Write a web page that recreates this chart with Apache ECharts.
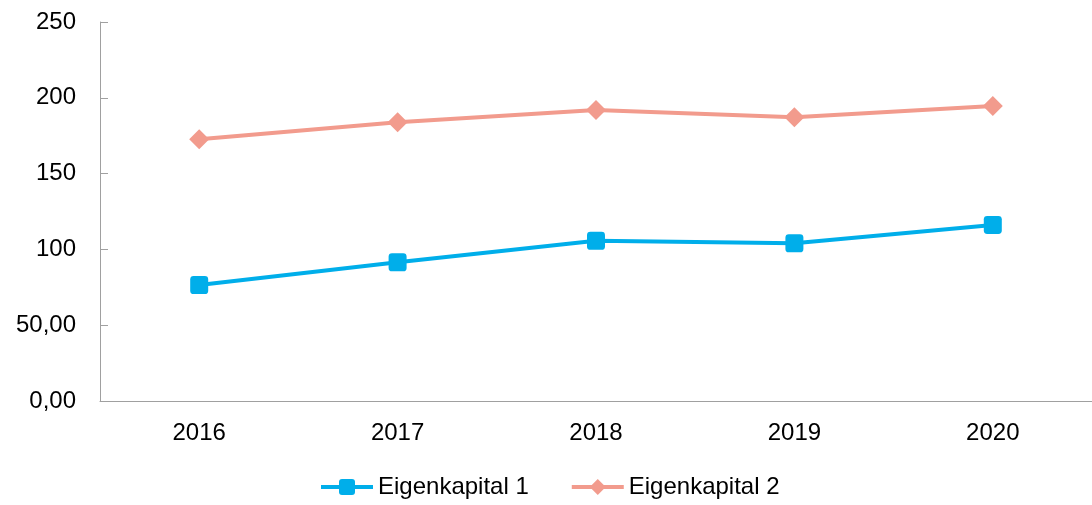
<!DOCTYPE html>
<html>
<head>
  <meta charset="utf-8">
  <title></title>
  <style>
    html, body { margin: 0; padding: 0; background: #fff; }
    #chart { width: 1092px; height: 505px; }
  </style>
</head>
<body>
<div id="chart"></div>
<script src="https://cdn.jsdelivr.net/npm/echarts@6/dist/echarts.min.js"></script>
<script>
  var years = ['2016', '2017', '2018', '2019', '2020'];
  var eigenkapital1 = [76.5, 91.5, 105.7, 104, 116.1];
  var eigenkapital2 = [172.6, 183.8, 192, 187.1, 194.6];
  var yLabels = {0: '0,00', 50: '50,00', 100: '100', 150: '150', 200: '200', 250: '250'};

  var chart = echarts.init(document.getElementById('chart'));
  var font = 'Liberation Sans, Arial, sans-serif';

  chart.setOption({
    animation: false,
    grid: { left: 100, right: -6, top: 22, bottom: 104 },
    legend: {
      top: 470,
      left: 314,
      itemWidth: 52,
      itemHeight: 20,
      itemGap: 41,
      lineStyle: { width: 4 },
      textStyle: { fontFamily: font, fontSize: 24, color: '#000', padding: [0, 0, 0, 0] },
      data: ['Eigenkapital 1', 'Eigenkapital 2']
    },
    xAxis: {
      type: 'category',
      data: years,
      boundaryGap: true,
      axisLine: { lineStyle: { color: '#a0a0a0', width: 1 } },
      axisTick: { inside: true, length: 8, lineStyle: { color: '#a0a0a0' } },
      axisLabel: { fontFamily: font, fontSize: 24, color: '#000', margin: 20 }
    },
    yAxis: {
      type: 'value',
      min: 0,
      max: 250,
      interval: 50,
      splitLine: { show: false },
      axisLine: { show: true, lineStyle: { color: '#a0a0a0', width: 1 } },
      axisTick: { show: true, inside: true, length: 8, lineStyle: { color: '#a0a0a0' } },
      axisLabel: {
        fontFamily: font, fontSize: 24, color: '#000', margin: 24,
        formatter: function (v) { return yLabels[v]; }
      }
    },
    series: [
      {
        name: 'Eigenkapital 1',
        type: 'line',
        data: eigenkapital1,
        symbol: 'path://M3,0 H13 Q16,0 16,3 V13 Q16,16 13,16 H3 Q0,16 0,13 V3 Q0,0 3,0 Z',
        symbolSize: 18,
        itemStyle: { color: '#00aeea' },
        lineStyle: { color: '#00aeea', width: 4 }
      },
      {
        name: 'Eigenkapital 2',
        type: 'line',
        data: eigenkapital2,
        symbol: 'diamond',
        symbolSize: 20,
        itemStyle: { color: '#f29b8d' },
        lineStyle: { color: '#f29b8d', width: 4 }
      }
    ]
  });
</script>
</body>
</html>
